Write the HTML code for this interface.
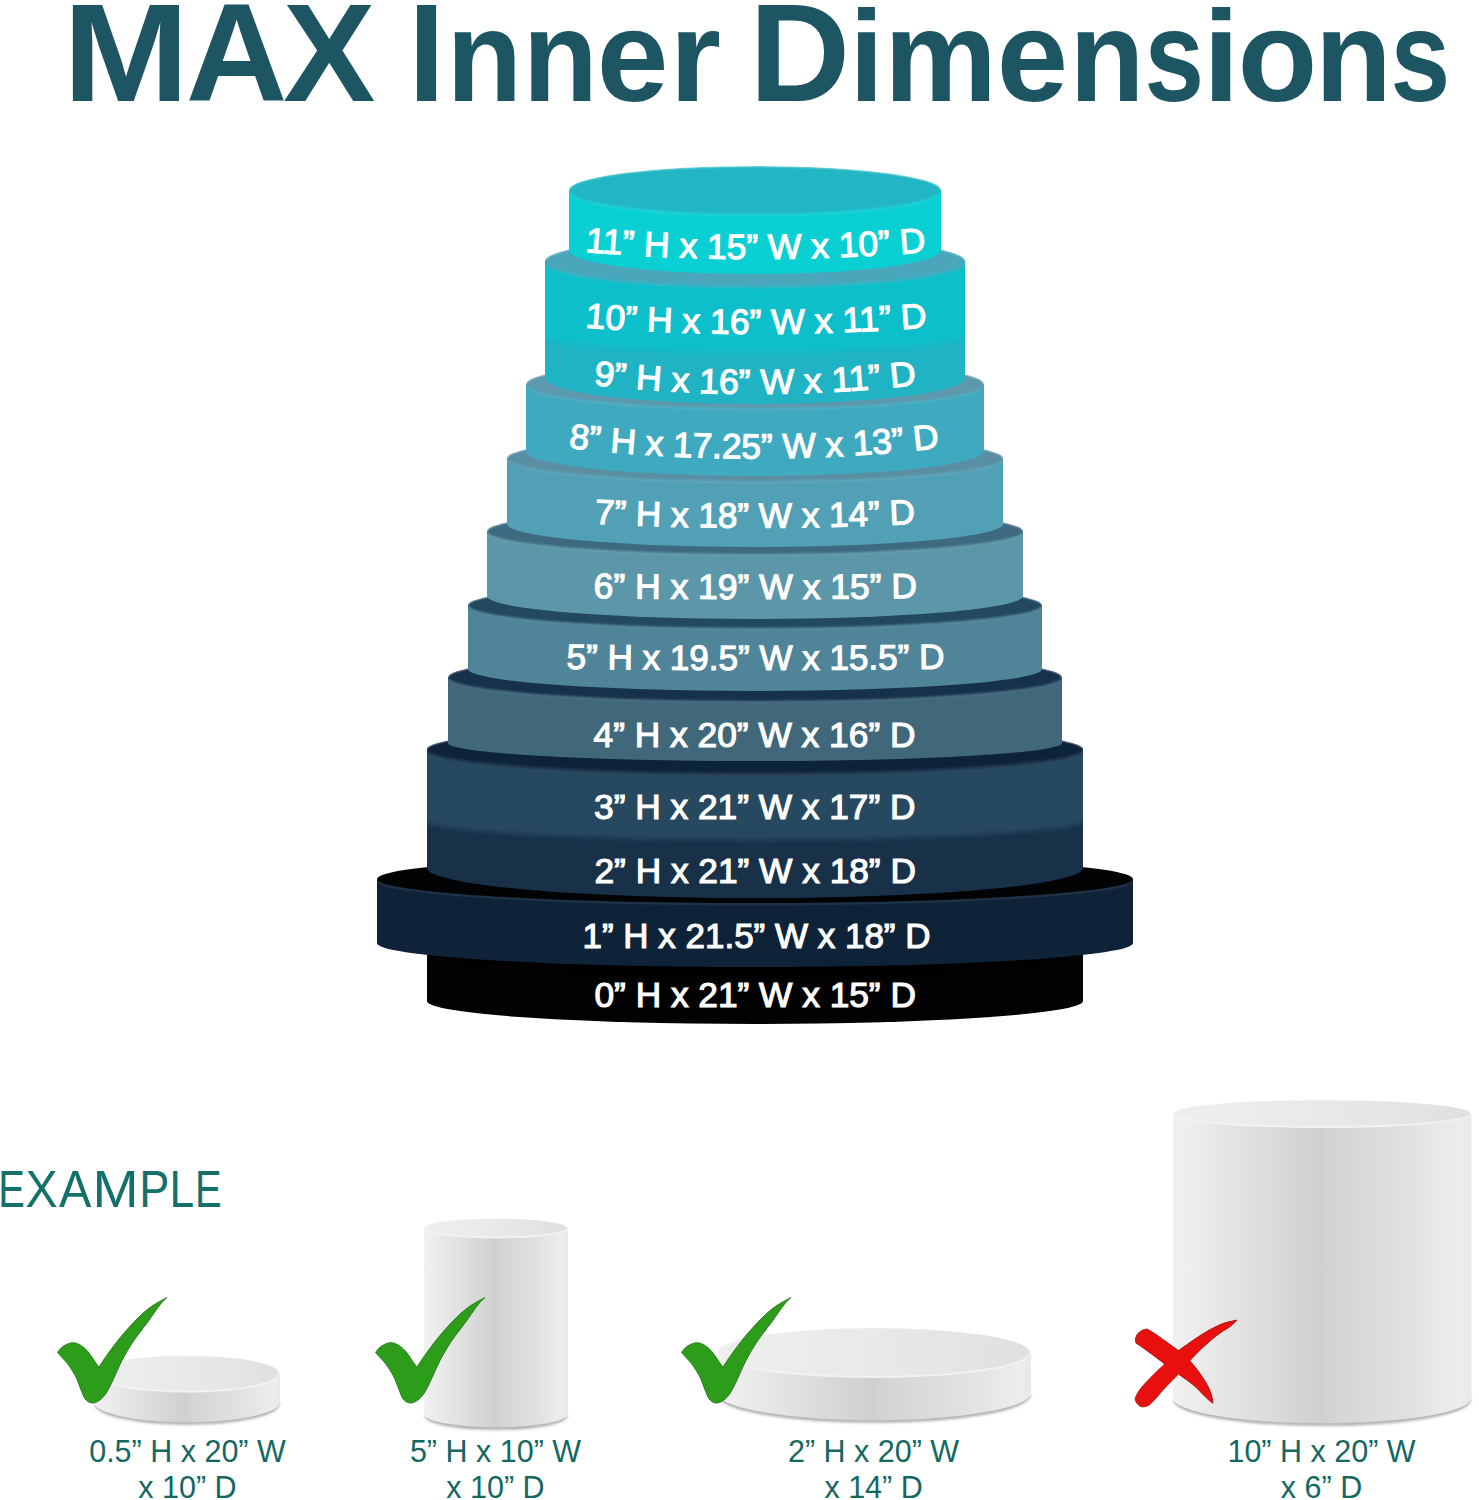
<!DOCTYPE html>
<html><head><meta charset="utf-8"><style>
html,body{margin:0;padding:0;background:#fff;}
svg{display:block;}
</style></head><body>
<svg width="1479" height="1500" viewBox="0 0 1479 1500">
<defs>
<linearGradient id="side0" x1="0" x2="1" y1="0" y2="0">
<stop offset="0" stop-color="#f1f1f1"/><stop offset="0.08" stop-color="#ececec"/><stop offset="0.5" stop-color="#cfcfcf"/><stop offset="0.53" stop-color="#d4d4d4"/><stop offset="0.8" stop-color="#e2e2e2"/><stop offset="0.96" stop-color="#ededed"/><stop offset="1" stop-color="#e8e8e8"/>
</linearGradient>
<linearGradient id="topg" x1="0" x2="1" y1="0" y2="0">
<stop offset="0" stop-color="#eeeeee"/><stop offset="0.5" stop-color="#e9e9e9"/><stop offset="1" stop-color="#e0e0e0"/>
</linearGradient>
<filter id="soft" x="-5%" y="-50%" width="110%" height="200%"><feGaussianBlur stdDeviation="1.3"/></filter>
<filter id="soft2" x="-5%" y="-20%" width="110%" height="140%"><feGaussianBlur stdDeviation="2.5"/></filter>
<filter id="blur2" x="-10%" y="-50%" width="120%" height="200%"><feGaussianBlur stdDeviation="1.6"/></filter>
</defs>
<rect width="1479" height="1500" fill="#ffffff"/>
<g font-family="Liberation Sans" font-weight="bold" fill="#1d5562"><text transform="translate(62.8,101) scale(1.091,1)" font-size="139">M</text><text transform="translate(185.8,101) scale(1.013,1)" font-size="139">A</text><text transform="translate(283.1,101) scale(0.997,1)" font-size="139">X</text><text transform="translate(408.2,101) scale(0.95,1)" font-size="139">I</text><text transform="translate(446.4,101) scale(0.952,1)" font-size="130">n</text><text transform="translate(522.8,101) scale(0.946,1)" font-size="130">n</text><text transform="translate(596.8,101) scale(0.992,1)" font-size="130">e</text><text transform="translate(669.6,101) scale(1.017,1)" font-size="130">r</text><text transform="translate(749.3,101) scale(1.005,1)" font-size="139">D</text><text transform="translate(849.5,101) scale(0.944,1)" font-size="130">i</text><text transform="translate(884.2,101) scale(0.975,1)" font-size="130">m</text><text transform="translate(996.8,101) scale(0.986,1)" font-size="130">e</text><text transform="translate(1069.4,101) scale(0.944,1)" font-size="130">n</text><text transform="translate(1144.6,101) scale(0.824,1)" font-size="130">s</text><text transform="translate(1202.9,101) scale(1.011,1)" font-size="130">i</text><text transform="translate(1237.4,101) scale(1.006,1)" font-size="130">o</text><text transform="translate(1315.0,101) scale(0.967,1)" font-size="130">n</text><text transform="translate(1390.4,101) scale(0.826,1)" font-size="130">s</text></g>

<path d="M427,950 L427,1001 A328.0,23 0 0 0 1083,1001 L1083,950 Z" fill="#020202"/>
<ellipse cx="755" cy="950" rx="328.0" ry="24" fill="#000000"/>
<path d="M377,879 L377,943 A378.0,24 0 0 0 1133,943 L1133,879 Z" fill="#0e2238"/>
<ellipse cx="755" cy="881.5" rx="377.5" ry="24" fill="#1e3145"/>
<ellipse cx="755" cy="879" rx="378.0" ry="24" fill="#010305"/>
<path d="M427,749 L427,868 A328.0,30 0 0 0 1083,868 L1083,749 Z" fill="#183149"/>
<clipPath id="sp749"><rect x="427" y="747" width="656" height="159"/></clipPath>
<path d="M417,749 L417,818 A338.0,22 0 0 0 1093,818 L1093,749 Z" fill="#284a5e" filter="url(#soft2)" clip-path="url(#sp749)"/>
<ellipse cx="755" cy="751.5" rx="327.5" ry="24" fill="#283f55"/>
<clipPath id="cl749"><ellipse cx="755" cy="749" rx="328.0" ry="24"/><rect x="427" y="749" width="656" height="119"/></clipPath>
<ellipse cx="755" cy="749" rx="328.0" ry="24" fill="#0e233a" filter="url(#soft)" clip-path="url(#cl749)"/>
<path d="M448,677 L448,743 A307.0,18 0 0 0 1062,743 L1062,677 Z" fill="#41677a"/>
<ellipse cx="755" cy="679.5" rx="306.5" ry="24" fill="#4e7183"/>
<clipPath id="cl677"><ellipse cx="755" cy="677" rx="307.0" ry="24"/><rect x="448" y="677" width="614" height="66"/></clipPath>
<ellipse cx="755" cy="677" rx="307.0" ry="24" fill="#15324b" filter="url(#soft)" clip-path="url(#cl677)"/>
<path d="M468,605 L468,669 A287.0,22 0 0 0 1042,669 L1042,605 Z" fill="#4f8499"/>
<ellipse cx="755" cy="607.5" rx="286.5" ry="23" fill="#5b8ca0"/>
<clipPath id="cl605"><ellipse cx="755" cy="605" rx="287.0" ry="23"/><rect x="468" y="605" width="574" height="64"/></clipPath>
<ellipse cx="755" cy="605" rx="287.0" ry="23" fill="#244a60" filter="url(#soft)" clip-path="url(#cl605)"/>
<path d="M487,531 L487,596 A268.0,23 0 0 0 1023,596 L1023,531 Z" fill="#5c97a9"/>
<ellipse cx="755" cy="533.5" rx="267.5" ry="23" fill="#679eaf"/>
<clipPath id="cl531"><ellipse cx="755" cy="531" rx="268.0" ry="23"/><rect x="487" y="531" width="536" height="65"/></clipPath>
<ellipse cx="755" cy="531" rx="268.0" ry="23" fill="#3c6a80" filter="url(#soft)" clip-path="url(#cl531)"/>
<path d="M507,458 L507,524 A248.0,23 0 0 0 1003,524 L1003,458 Z" fill="#52a0b6"/>
<ellipse cx="755" cy="460.5" rx="247.5" ry="23" fill="#5ea6bb"/>
<clipPath id="cl458"><ellipse cx="755" cy="458" rx="248.0" ry="23"/><rect x="507" y="458" width="496" height="66"/></clipPath>
<ellipse cx="755" cy="458" rx="248.0" ry="23" fill="#5a8fa3" filter="url(#soft)" clip-path="url(#cl458)"/>
<path d="M526,384 L526,451 A229.0,25 0 0 0 984,451 L984,384 Z" fill="#3fa9bf"/>
<ellipse cx="755" cy="386.5" rx="228.5" ry="24" fill="#4cafc3"/>
<clipPath id="cl384"><ellipse cx="755" cy="384" rx="229.0" ry="24"/><rect x="526" y="384" width="458" height="67"/></clipPath>
<ellipse cx="755" cy="384" rx="229.0" ry="24" fill="#5d98ad" filter="url(#soft)" clip-path="url(#cl384)"/>
<path d="M545,261 L545,378 A210.0,26 0 0 0 965,378 L965,261 Z" fill="#1fb3c3"/>
<clipPath id="sp261"><rect x="545" y="259" width="420" height="157"/></clipPath>
<path d="M535,261 L535,333 A220.0,19 0 0 0 975,333 L975,261 Z" fill="#0bbfcb" filter="url(#soft2)" clip-path="url(#sp261)"/>
<ellipse cx="755" cy="263.5" rx="209.5" ry="25" fill="#2eb8c7"/>
<clipPath id="cl261"><ellipse cx="755" cy="261" rx="210.0" ry="25"/><rect x="545" y="261" width="420" height="117"/></clipPath>
<ellipse cx="755" cy="261" rx="210.0" ry="25" fill="#4aa6bb" filter="url(#soft)" clip-path="url(#cl261)"/>
<path d="M569,190 L569,250 A186.0,24 0 0 0 941,250 L941,190 Z" fill="#0ad0d4"/>
<ellipse cx="755" cy="192.5" rx="185.5" ry="24" fill="#1bd3d7"/>
<clipPath id="cl190"><ellipse cx="755" cy="190" rx="186.0" ry="24"/><rect x="569" y="190" width="372" height="60"/></clipPath>
<ellipse cx="755" cy="190" rx="186.0" ry="24" fill="#24b6c5" filter="url(#soft)" clip-path="url(#cl190)"/>
<path id="tp0" d="M585.0,252 Q755.75,266 926.5,252" fill="none"/><text font-family="Liberation Sans" font-size="35" fill="#ffffff" stroke="#ffffff" stroke-width="1.15"><textPath href="#tp0" textLength="341.5" lengthAdjust="spacingAndGlyphs">11” H x 15” W x 10” D</textPath></text>
<path id="tp1" d="M585.0,327.5 Q756.25,340.5 927.5,327.5" fill="none"/><text font-family="Liberation Sans" font-size="35" fill="#ffffff" stroke="#ffffff" stroke-width="1.15"><textPath href="#tp1" textLength="342.5" lengthAdjust="spacingAndGlyphs">10” H x 16” W x 11” D</textPath></text>
<path id="tp2" d="M593.5,385 Q755.5,403 917.5,385" fill="none"/><text font-family="Liberation Sans" font-size="35" fill="#ffffff" stroke="#ffffff" stroke-width="1.15"><textPath href="#tp2" textLength="324.0" lengthAdjust="spacingAndGlyphs">9” H x 16” W x 11” D</textPath></text>
<path id="tp3" d="M568.5,448 Q754.5,469.0 940.5,448" fill="none"/><text font-family="Liberation Sans" font-size="35" fill="#ffffff" stroke="#ffffff" stroke-width="1.15"><textPath href="#tp3" textLength="372.0" lengthAdjust="spacingAndGlyphs">8” H x 17.25” W x 13” D</textPath></text>
<path id="tp4" d="M594.5,523.7 Q755.0,531.8999999999999 915.5,523.7" fill="none"/><text font-family="Liberation Sans" font-size="35" fill="#ffffff" stroke="#ffffff" stroke-width="1.15"><textPath href="#tp4" textLength="321.0" lengthAdjust="spacingAndGlyphs">7” H x 18” W x 14” D</textPath></text>
<path id="tp5" d="M593.5,598 Q755.3,600 917.1,598" fill="none"/><text font-family="Liberation Sans" font-size="35" fill="#ffffff" stroke="#ffffff" stroke-width="1.15"><textPath href="#tp5" textLength="323.6" lengthAdjust="spacingAndGlyphs">6” H x 19” W x 15” D</textPath></text>
<path id="tp6" d="M566.5,668.7 Q755.5,671.3 944.5,668.7" fill="none"/><text font-family="Liberation Sans" font-size="35" fill="#ffffff" stroke="#ffffff" stroke-width="1.15"><textPath href="#tp6" textLength="378.0" lengthAdjust="spacingAndGlyphs">5” H x 19.5” W x 15.5” D</textPath></text>
<path id="tp7" d="M593.5,746.6 Q754.5,746.6 915.5,746.6" fill="none"/><text font-family="Liberation Sans" font-size="35" fill="#ffffff" stroke="#ffffff" stroke-width="1.15"><textPath href="#tp7" textLength="322.0" lengthAdjust="spacingAndGlyphs">4” H x 20” W x 16” D</textPath></text>
<path id="tp8" d="M594.1,819 Q754.8,819 915.5,819" fill="none"/><text font-family="Liberation Sans" font-size="35" fill="#ffffff" stroke="#ffffff" stroke-width="1.15"><textPath href="#tp8" textLength="321.4" lengthAdjust="spacingAndGlyphs">3” H x 21” W x 17” D</textPath></text>
<path id="tp9" d="M594.5,882.7 Q755.2,882.7 915.9,882.7" fill="none"/><text font-family="Liberation Sans" font-size="35" fill="#ffffff" stroke="#ffffff" stroke-width="1.15"><textPath href="#tp9" textLength="321.4" lengthAdjust="spacingAndGlyphs">2” H x 21” W x 18” D</textPath></text>
<path id="tp10" d="M582.5,947.6 Q756.5,947.6 930.5,947.6" fill="none"/><text font-family="Liberation Sans" font-size="35" fill="#ffffff" stroke="#ffffff" stroke-width="1.15"><textPath href="#tp10" textLength="348.0" lengthAdjust="spacingAndGlyphs">1” H x 21.5” W x 18” D</textPath></text>
<path id="tp11" d="M594.5,1006.5 Q755.2,1006.5 915.9,1006.5" fill="none"/><text font-family="Liberation Sans" font-size="35" fill="#ffffff" stroke="#ffffff" stroke-width="1.15"><textPath href="#tp11" textLength="321.4" lengthAdjust="spacingAndGlyphs">0” H x 21” W x 15” D</textPath></text>
<g font-family="Liberation Sans" fill="#13706a"><text transform="translate(-1.72,1206.8) scale(0.782,1)" font-size="51">E</text><text transform="translate(25.62,1206.8) scale(0.945,1)" font-size="51">X</text><text transform="translate(58.96,1206.8) scale(0.951,1)" font-size="51">A</text><text transform="translate(92.39,1206.8) scale(1.085,1)" font-size="51">M</text><text transform="translate(139.14,1206.8) scale(0.885,1)" font-size="51">P</text><text transform="translate(169.62,1206.8) scale(0.867,1)" font-size="51">L</text><text transform="translate(195.08,1206.8) scale(0.782,1)" font-size="51">E</text></g>
<path d="M96,1403 A91.0,20 0 0 0 278,1403" fill="none" stroke="#9a9a9a" stroke-width="3" filter="url(#blur2)"/>
<path d="M94,1374 L94,1402 A93.0,20 0 0 0 280,1402 L280,1374 Z" fill="url(#side0)"/>
<ellipse cx="187.0" cy="1374" rx="93.0" ry="18.5" fill="#f2f2f2"/>
<ellipse cx="187.0" cy="1373.2" rx="91.5" ry="17.3" fill="url(#topg)"/>
<path d="M426,1415 A70.0,13 0 0 0 566,1415" fill="none" stroke="#9a9a9a" stroke-width="3" filter="url(#blur2)"/>
<path d="M424,1228.5 L424,1414 A72.0,13 0 0 0 568,1414 L568,1228.5 Z" fill="url(#side0)"/>
<ellipse cx="496.0" cy="1228.5" rx="72.0" ry="10" fill="#f2f2f2"/>
<ellipse cx="496.0" cy="1227.7" rx="70.5" ry="8.8" fill="url(#topg)"/>
<path d="M719,1394 A155.0,27 0 0 0 1029,1394" fill="none" stroke="#9a9a9a" stroke-width="3" filter="url(#blur2)"/>
<path d="M717,1353 L717,1393 A157.0,27 0 0 0 1031,1393 L1031,1353 Z" fill="url(#side0)"/>
<ellipse cx="874.0" cy="1353" rx="157.0" ry="25" fill="#f2f2f2"/>
<ellipse cx="874.0" cy="1352.2" rx="155.5" ry="23.8" fill="url(#topg)"/>
<path d="M1175,1399 A147.25,25 0 0 0 1469.5,1399" fill="none" stroke="#9a9a9a" stroke-width="3" filter="url(#blur2)"/>
<path d="M1173,1114 L1173,1398 A149.25,25 0 0 0 1471.5,1398 L1471.5,1114 Z" fill="url(#side0)"/>
<ellipse cx="1322.25" cy="1114" rx="149.25" ry="14" fill="#f2f2f2"/>
<ellipse cx="1322.25" cy="1113.2" rx="147.75" ry="12.8" fill="url(#topg)"/>
<path d="M57.5,1352.4 C58.5,1351.4 60.7,1347.9 63.2,1346.3 C65.7,1344.7 69.5,1342.8 72.4,1342.7 C75.3,1342.6 78.2,1343.9 80.8,1345.4 C83.4,1346.9 85.6,1349.0 87.8,1351.5 C90.0,1354.0 92.2,1357.7 94.0,1360.3 C95.8,1362.9 98.0,1366.1 98.8,1367.3 C100.2,1365.2 103.5,1360.0 107.1,1355.0 C110.7,1350.0 115.2,1343.7 120.3,1337.5 C125.4,1331.3 132.8,1323.2 137.9,1318.1 C143.0,1313.0 146.3,1310.1 151.1,1306.7 C155.9,1303.3 164.3,1299.0 166.9,1297.5 C165.7,1298.7 163.3,1300.6 159.9,1304.9 C156.5,1309.2 151.1,1317.4 146.7,1323.4 C142.3,1329.4 137.6,1334.8 133.5,1341.0 C129.4,1347.2 125.8,1353.3 122.1,1360.3 C118.4,1367.3 114.4,1377.3 111.5,1383.2 C108.6,1389.1 106.8,1392.4 104.5,1395.5 C102.2,1398.6 99.7,1400.4 97.5,1401.6 C95.3,1402.8 93.3,1403.3 91.3,1402.9 C89.2,1402.5 87.0,1401.3 85.2,1399.0 C83.5,1396.7 82.4,1393.1 80.8,1389.3 C79.2,1385.5 77.7,1380.3 75.5,1376.1 C73.3,1371.8 69.9,1367.0 67.6,1363.8 C65.2,1360.6 63.1,1358.7 61.4,1356.8 C59.7,1354.9 58.1,1353.1 57.5,1352.4 Z" transform="translate(0,0)" fill="#2c9c1a" stroke="#25801a" stroke-width="1"/>
<path d="M57.5,1352.4 C58.5,1351.4 60.7,1347.9 63.2,1346.3 C65.7,1344.7 69.5,1342.8 72.4,1342.7 C75.3,1342.6 78.2,1343.9 80.8,1345.4 C83.4,1346.9 85.6,1349.0 87.8,1351.5 C90.0,1354.0 92.2,1357.7 94.0,1360.3 C95.8,1362.9 98.0,1366.1 98.8,1367.3 C100.2,1365.2 103.5,1360.0 107.1,1355.0 C110.7,1350.0 115.2,1343.7 120.3,1337.5 C125.4,1331.3 132.8,1323.2 137.9,1318.1 C143.0,1313.0 146.3,1310.1 151.1,1306.7 C155.9,1303.3 164.3,1299.0 166.9,1297.5 C165.7,1298.7 163.3,1300.6 159.9,1304.9 C156.5,1309.2 151.1,1317.4 146.7,1323.4 C142.3,1329.4 137.6,1334.8 133.5,1341.0 C129.4,1347.2 125.8,1353.3 122.1,1360.3 C118.4,1367.3 114.4,1377.3 111.5,1383.2 C108.6,1389.1 106.8,1392.4 104.5,1395.5 C102.2,1398.6 99.7,1400.4 97.5,1401.6 C95.3,1402.8 93.3,1403.3 91.3,1402.9 C89.2,1402.5 87.0,1401.3 85.2,1399.0 C83.5,1396.7 82.4,1393.1 80.8,1389.3 C79.2,1385.5 77.7,1380.3 75.5,1376.1 C73.3,1371.8 69.9,1367.0 67.6,1363.8 C65.2,1360.6 63.1,1358.7 61.4,1356.8 C59.7,1354.9 58.1,1353.1 57.5,1352.4 Z" transform="translate(318,0)" fill="#2c9c1a" stroke="#25801a" stroke-width="1"/>
<path d="M57.5,1352.4 C58.5,1351.4 60.7,1347.9 63.2,1346.3 C65.7,1344.7 69.5,1342.8 72.4,1342.7 C75.3,1342.6 78.2,1343.9 80.8,1345.4 C83.4,1346.9 85.6,1349.0 87.8,1351.5 C90.0,1354.0 92.2,1357.7 94.0,1360.3 C95.8,1362.9 98.0,1366.1 98.8,1367.3 C100.2,1365.2 103.5,1360.0 107.1,1355.0 C110.7,1350.0 115.2,1343.7 120.3,1337.5 C125.4,1331.3 132.8,1323.2 137.9,1318.1 C143.0,1313.0 146.3,1310.1 151.1,1306.7 C155.9,1303.3 164.3,1299.0 166.9,1297.5 C165.7,1298.7 163.3,1300.6 159.9,1304.9 C156.5,1309.2 151.1,1317.4 146.7,1323.4 C142.3,1329.4 137.6,1334.8 133.5,1341.0 C129.4,1347.2 125.8,1353.3 122.1,1360.3 C118.4,1367.3 114.4,1377.3 111.5,1383.2 C108.6,1389.1 106.8,1392.4 104.5,1395.5 C102.2,1398.6 99.7,1400.4 97.5,1401.6 C95.3,1402.8 93.3,1403.3 91.3,1402.9 C89.2,1402.5 87.0,1401.3 85.2,1399.0 C83.5,1396.7 82.4,1393.1 80.8,1389.3 C79.2,1385.5 77.7,1380.3 75.5,1376.1 C73.3,1371.8 69.9,1367.0 67.6,1363.8 C65.2,1360.6 63.1,1358.7 61.4,1356.8 C59.7,1354.9 58.1,1353.1 57.5,1352.4 Z" transform="translate(624,0)" fill="#2c9c1a" stroke="#25801a" stroke-width="1"/>
<path d="M1164.8,1364.0 C1162.9,1362.6 1157.3,1358.3 1153.4,1355.4 C1149.5,1352.5 1144.0,1348.5 1141.2,1346.5 C1138.4,1344.5 1137.4,1344.5 1136.4,1343.3 C1135.5,1342.1 1135.2,1340.8 1135.5,1339.2 C1135.8,1337.6 1136.5,1335.1 1138.0,1333.5 C1139.5,1331.9 1142.6,1330.0 1144.5,1329.5 C1146.4,1329.0 1146.5,1328.8 1149.3,1330.3 C1152.1,1331.8 1156.6,1335.0 1161.5,1338.4 C1166.4,1341.8 1175.7,1348.6 1178.5,1350.6 C1180.4,1349.2 1185.3,1345.6 1189.9,1342.5 C1194.5,1339.4 1200.7,1335.0 1206.1,1331.9 C1211.5,1328.8 1217.2,1325.8 1222.4,1323.8 C1227.6,1321.8 1234.6,1320.7 1237.0,1320.1 C1235.9,1321.1 1233.6,1323.8 1230.5,1326.2 C1227.4,1328.6 1223.0,1330.7 1218.3,1334.3 C1213.6,1337.9 1206.8,1343.7 1202.1,1348.1 C1197.4,1352.5 1191.9,1358.6 1189.9,1360.7 C1191.2,1362.4 1195.3,1367.2 1198.0,1370.9 C1200.7,1374.6 1203.9,1379.2 1206.1,1383.0 C1208.3,1386.8 1209.8,1390.2 1211.0,1393.6 C1212.2,1397.0 1212.7,1401.7 1213.0,1403.3 C1211.8,1402.3 1209.3,1400.6 1206.1,1397.6 C1202.9,1394.6 1198.6,1389.4 1194.0,1385.5 C1189.4,1381.6 1181.1,1376.0 1178.5,1374.1 C1176.3,1376.3 1169.8,1382.6 1165.6,1387.1 C1161.4,1391.6 1156.4,1397.8 1153.4,1400.9 C1150.4,1404.0 1149.7,1404.8 1147.7,1405.7 C1145.7,1406.7 1143.1,1407.1 1141.2,1406.6 C1139.3,1406.1 1137.4,1404.0 1136.4,1402.5 C1135.5,1401.0 1134.7,1400.0 1135.5,1397.6 C1136.3,1395.2 1138.2,1391.7 1141.2,1387.9 C1144.2,1384.1 1149.5,1378.9 1153.4,1374.9 C1157.3,1370.9 1162.9,1365.8 1164.8,1364.0 Z" fill="#e8100e" stroke="#b80c0c" stroke-width="1"/>
<text x="187.5" y="1461.5" text-anchor="middle" font-family="Liberation Sans" font-size="30.5" fill="#136862">0.5” H x 20” W</text>
<text x="187.5" y="1498.2" text-anchor="middle" font-family="Liberation Sans" font-size="30.5" fill="#136862">x 10” D</text>
<text x="495.5" y="1461.5" text-anchor="middle" font-family="Liberation Sans" font-size="30.5" fill="#136862">5” H x 10” W</text>
<text x="495.5" y="1498.2" text-anchor="middle" font-family="Liberation Sans" font-size="30.5" fill="#136862">x 10” D</text>
<text x="873.6" y="1461.5" text-anchor="middle" font-family="Liberation Sans" font-size="30.5" fill="#136862">2” H x 20” W</text>
<text x="873.6" y="1498.2" text-anchor="middle" font-family="Liberation Sans" font-size="30.5" fill="#136862">x 14” D</text>
<text x="1321.5" y="1461.5" text-anchor="middle" font-family="Liberation Sans" font-size="30.5" fill="#136862">10” H x 20” W</text>
<text x="1321.5" y="1498.2" text-anchor="middle" font-family="Liberation Sans" font-size="30.5" fill="#136862">x 6” D</text>
</svg></body></html>
